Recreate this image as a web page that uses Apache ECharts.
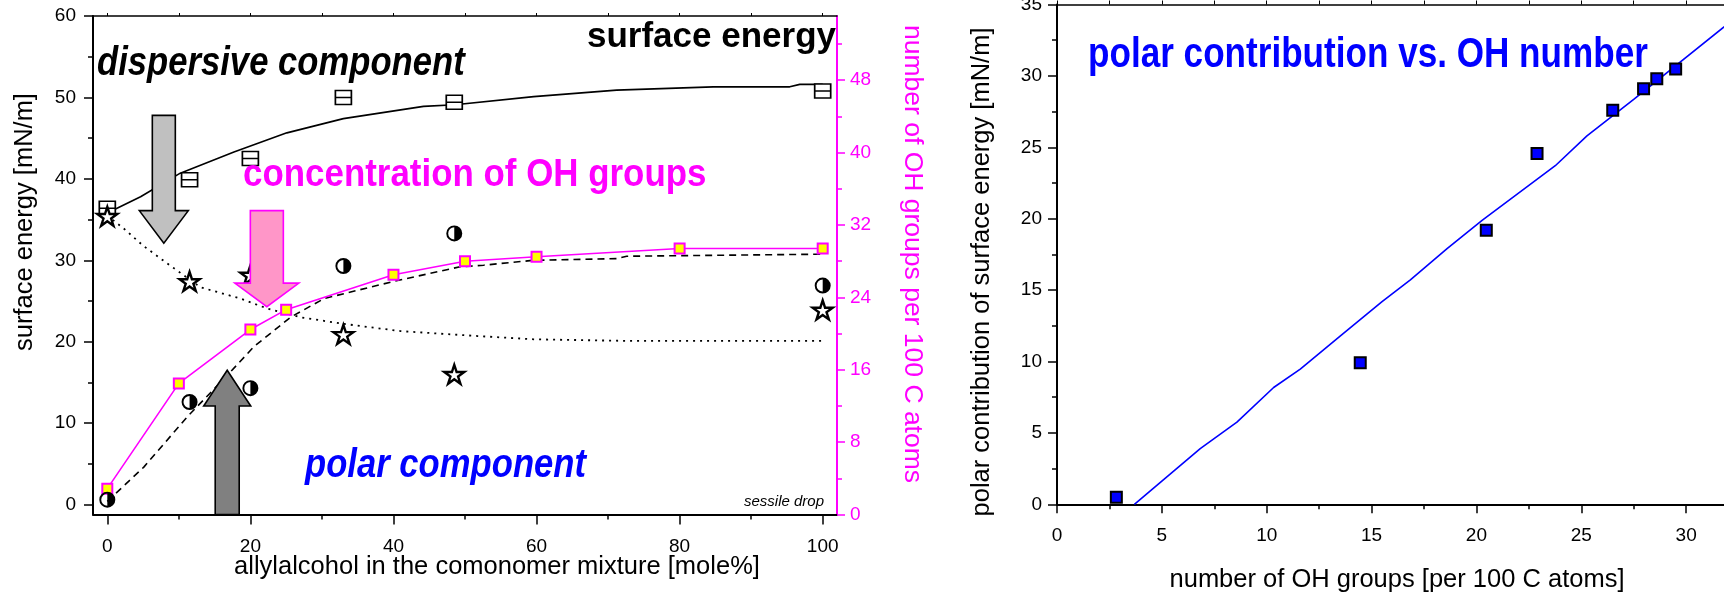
<!DOCTYPE html>
<html>
<head>
<meta charset="utf-8">
<script src="https://cdn.jsdelivr.net/npm/echarts@6/dist/echarts.min.js"></script>
<style>
  html, body { margin: 0; padding: 0; background: #ffffff; }
  #main { width: 1724px; height: 593px; }
</style>
</head>
<body>
<div id="main"></div>
<script>
// ---------- Left panel: surface energy vs. allylalcohol content ----------
const composition      = [0, 11.5, 20, 33, 48.5, 100];          // mole% allylalcohol
const totalEnergy      = [36.4, 39.9, 42.5, 50.0, 49.4, 50.8];   // mN/m
const dispersiveEnergy = [35.4, 27.4, 28.2, 20.9, 16.0, 23.9];
const polarEnergy      = [0.6, 12.6, 14.3, 29.3, 33.3, 26.9];

// smoothed trend curves
const totalFitX = [0, 4.65, 10.2, 17.7, 25.1, 33, 44.2, 48.6, 59.6, 71.2, 84.7, 95.4, 96.8, 100];
const totalFitY = [35.8, 37.8, 40.7, 43.3, 45.65, 47.4, 48.9, 49.1, 50.1, 50.9, 51.3, 51.3, 51.6, 51.6];
const dispFitX  = [0, 2.3, 5, 8.4, 13, 18.6, 22.3, 27, 33, 41, 51.7, 59.6, 72.6, 100];
const dispFitY  = [35.5, 33.9, 31.8, 29.6, 26.7, 25.3, 24.1, 23.0, 22.2, 21.3, 20.7, 20.3, 20.1, 20.1];
const polarFitX = [0, 5.1, 11.2, 16.8, 20.5, 25.6, 30.3, 40, 49.3, 52.6, 59.6, 71.2, 72.6, 100];
const polarFitY = [0.4, 4.6, 10.8, 15.9, 19.4, 23.0, 25.3, 27.4, 29.2, 29.4, 30.0, 30.2, 30.5, 30.75];

// OH groups per 100 C atoms (right-hand axis)
const ohComposition = [0, 10, 20, 25, 40, 50, 60, 80, 100];
const ohPer100C     = [2.87, 14.5, 20.45, 22.65, 26.5, 28.0, 28.5, 29.4, 29.4];

// tick labels
const energyTicks   = [0, 10, 20, 30, 40, 50, 60];
const energyMinor   = [5, 15, 25, 35, 45, 55];
const ohTicks       = [0, 8, 16, 24, 32, 40, 48];
const ohMinor       = [4, 12, 20, 28, 36, 44, 52];
const moleTicks     = [0, 20, 40, 60, 80, 100];
const moleMinor     = [10, 30, 50, 70, 90];
const moleTopTicks  = [0, 10, 20, 30, 40, 50, 60, 70, 80, 90, 100];

// ---------- Right panel: polar contribution vs. OH number ----------
const ohNumber          = [2.83, 14.46, 20.47, 22.89, 26.5, 27.97, 28.6, 29.5];
const polarContribution = [0.49, 9.92, 19.19, 24.57, 27.6, 29.1, 29.8, 30.48];
const polarFitOH    = [3.69, 6.83, 8.58, 10.33, 11.6, 13.5, 15.5, 16.85, 18.6, 20.27, 23.76, 25.27, 27.5, 31.82, 33.1];
const polarFitValue = [0, 3.9, 5.75, 8.18, 9.46, 11.77, 14.2, 15.72, 17.9, 19.89, 23.71, 25.8, 28.35, 33.45, 35];

// arrow annotations, in data units of the left panel: [x, tail, head base, tip]
const arrowAnchors = [
  [7.9, 47.8, 36.1, 32.1],
  [22.3, 36.1, 27.2, 24.3],
  [16.76, -1.23, 12.1, 16.5]
];
const arrowLooks = [
  { fill: '#c0c0c0', stroke: '#000000', shaft: 11.5, head: 24.5 },
  { fill: '#ff96c8', stroke: '#ff00ff', shaft: 16.5, head: 32 },
  { fill: '#808080', stroke: '#000000', shaft: 12, head: 23.5 }
];

const pairs = (xs, ys) => xs.map((x, i) => [x, ys[i]]);

const SANS = "'Liberation Sans', Arial, sans-serif";

// marker shapes
const barSquare = 'path://M0,0 H16 V14 H0 Z M0,7 H16';
const starSymbol = (() => {
  const pts = [];
  for (let k = 0; k < 10; k++) {
    const r = k % 2 === 0 ? 50 : 19.1;
    const a = (-90 + k * 36) * Math.PI / 180;
    pts.push((50 + r * Math.cos(a)).toFixed(2) + ',' + (50 + r * Math.sin(a)).toFixed(2));
  }
  return 'path://M' + pts.join(' L') + ' Z';
})();
// ring with the right half filled
const halfCircle = 'path://M50,0 A50,50 0 1 1 50,100 A50,50 0 1 1 50,0 Z M50,12 A38,38 0 0 0 50,88 Z';

const chart = echarts.init(document.getElementById('main'), null, { renderer: 'canvas' });

const axisBlack = { color: '#000000', width: 2 };
const labelStyle = { color: '#000000', fontSize: 19, fontFamily: SANS };

// condensed headline text (horizontal squeeze of the sans face)
const headline = (x, y, text, font, fill, align, squeeze) => ({
  type: 'text', z: 10, x: x, y: y, scaleX: squeeze, scaleY: 1,
  style: { text: text, font: font, fill: fill, align: align, verticalAlign: 'middle' }
});

const option = {
  animation: false,
  backgroundColor: '#ffffff',
  grid: [
    { left: 93, top: 16, width: 744, height: 498.6, containLabel: false, outerBoundsMode: 'none' },
    // the right panel runs past the right edge of the canvas
    { left: 1057, top: 4.5, width: 734, height: 499.8, containLabel: false, outerBoundsMode: 'none' }
  ],
  xAxis: [
    { // 0: left panel, bottom
      gridIndex: 0, type: 'value', min: -2, max: 102, position: 'bottom',
      axisLine: { show: true, onZero: false, lineStyle: axisBlack },
      axisTick: { show: true, inside: false, length: 10, customValues: moleTicks, lineStyle: { color: '#000', width: 1.5 } },
      axisLabel: { show: true, customValues: moleTicks, margin: 23, ...labelStyle },
      splitLine: { show: false }
    },
    { // 1: left panel, bottom minor ticks
      gridIndex: 0, type: 'value', min: -2, max: 102, position: 'bottom',
      axisLine: { show: false, onZero: false },
      axisTick: { show: true, length: 5, customValues: moleMinor, lineStyle: { color: '#000', width: 1.5 } },
      axisLabel: { show: false }, splitLine: { show: false }
    },
    { // 2: left panel, top frame
      gridIndex: 0, type: 'value', min: -2, max: 102, position: 'top',
      axisLine: { show: true, onZero: false, lineStyle: { color: '#000', width: 1.5 } },
      axisTick: { show: true, length: 3, customValues: moleTopTicks, lineStyle: { color: '#000', width: 1 } },
      axisLabel: { show: false }, splitLine: { show: false }
    },
    { // 3: right panel, bottom
      gridIndex: 1, type: 'value', min: 0, max: 35, interval: 5, position: 'bottom',
      axisLine: { show: true, onZero: false, lineStyle: axisBlack },
      axisTick: { show: true, length: 9, lineStyle: { color: '#000', width: 1.5 } },
      minorTick: { show: true, splitNumber: 2, length: 5, lineStyle: { color: '#000', width: 1.5 } },
      axisLabel: { show: true, margin: 22, ...labelStyle },
      splitLine: { show: false }, minorSplitLine: { show: false }
    },
    { // 4: right panel, top frame
      gridIndex: 1, type: 'value', min: 0, max: 35, interval: 5, position: 'top',
      axisLine: { show: true, onZero: false, lineStyle: { color: '#000', width: 1.5 } },
      axisTick: { show: true, length: 4, lineStyle: { color: '#000', width: 1 } },
      minorTick: { show: true, splitNumber: 2, length: 4, lineStyle: { color: '#000', width: 1 } },
      axisLabel: { show: false }, splitLine: { show: false }
    }
  ],
  yAxis: [
    { // 0: surface energy
      gridIndex: 0, type: 'value', min: -1.23, max: 60, position: 'left',
      axisLine: { show: true, onZero: false, lineStyle: axisBlack },
      axisTick: { show: true, length: 9, customValues: energyTicks, lineStyle: { color: '#000', width: 1.5 } },
      axisLabel: { show: true, customValues: energyTicks, margin: 17, ...labelStyle },
      splitLine: { show: false }
    },
    { // 1: surface energy minor ticks
      gridIndex: 0, type: 'value', min: -1.23, max: 60, position: 'left',
      axisLine: { show: false, onZero: false },
      axisTick: { show: true, length: 5, customValues: energyMinor, lineStyle: { color: '#000', width: 1.5 } },
      axisLabel: { show: false }, splitLine: { show: false }
    },
    { // 2: OH groups per 100 C atoms
      gridIndex: 0, type: 'value', min: 0, max: 55.1, position: 'right',
      axisLine: { show: true, onZero: false, lineStyle: { color: '#ff00ff', width: 2 } },
      axisTick: { show: true, length: 8, customValues: ohTicks, lineStyle: { color: '#ff00ff', width: 1.5 } },
      axisLabel: { show: true, customValues: ohTicks, margin: 13, color: '#ff00ff', fontSize: 19, fontFamily: SANS },
      splitLine: { show: false }
    },
    { // 3: OH minor ticks
      gridIndex: 0, type: 'value', min: 0, max: 55.1, position: 'right',
      axisLine: { show: false, onZero: false },
      axisTick: { show: true, length: 5, customValues: ohMinor, lineStyle: { color: '#ff00ff', width: 1.5 } },
      axisLabel: { show: false }, splitLine: { show: false }
    },
    { // 4: polar contribution
      gridIndex: 1, type: 'value', min: 0, max: 35, interval: 5, position: 'left',
      axisLine: { show: true, onZero: false, lineStyle: axisBlack },
      axisTick: { show: true, length: 9, lineStyle: { color: '#000', width: 1.5 } },
      minorTick: { show: true, splitNumber: 2, length: 5, lineStyle: { color: '#000', width: 1.5 } },
      axisLabel: { show: true, margin: 15, ...labelStyle },
      splitLine: { show: false }, minorSplitLine: { show: false }
    }
  ],
  series: [
    { // total surface energy trend
      type: 'line', xAxisIndex: 0, yAxisIndex: 0, z: 2, showSymbol: false, symbol: 'none',
      data: pairs(totalFitX, totalFitY),
      lineStyle: { color: '#000', width: 1.6, type: 'solid' }
    },
    { // dispersive trend
      type: 'line', xAxisIndex: 0, yAxisIndex: 0, z: 2, symbol: 'none',
      data: pairs(dispFitX, dispFitY),
      lineStyle: { color: '#000', width: 1.8, type: [2, 5] }
    },
    { // polar trend
      type: 'line', xAxisIndex: 0, yAxisIndex: 0, z: 2, symbol: 'none',
      data: pairs(polarFitX, polarFitY),
      lineStyle: { color: '#000', width: 1.6, type: [7, 5] }
    },
    { // OH concentration
      type: 'line', xAxisIndex: 0, yAxisIndex: 2, z: 3,
      data: pairs(ohComposition, ohPer100C),
      lineStyle: { color: '#ff00ff', width: 1.6 },
      symbol: 'rect', symbolSize: 10,
      itemStyle: { color: '#ffff00', borderColor: '#ff00ff', borderWidth: 2 }
    },
    { // total surface energy
      type: 'scatter', xAxisIndex: 0, yAxisIndex: 0, z: 4,
      data: pairs(composition, totalEnergy),
      symbol: barSquare, symbolSize: [16, 14],
      itemStyle: { color: '#ffffff', borderColor: '#000', borderWidth: 1.6, opacity: 1 }
    },
    { // dispersive component
      type: 'scatter', xAxisIndex: 0, yAxisIndex: 0, z: 4,
      data: pairs(composition, dispersiveEnergy),
      symbol: starSymbol, symbolSize: 20, symbolKeepAspect: true,
      itemStyle: { color: '#ffffff', borderColor: '#000', borderWidth: 2.4, opacity: 1 }
    },
    { // polar component
      type: 'scatter', xAxisIndex: 0, yAxisIndex: 0, z: 4,
      data: pairs(composition, polarEnergy),
      symbol: halfCircle, symbolSize: 16, symbolKeepAspect: true,
      itemStyle: { color: '#000000', opacity: 1 }
    },
    { // arrows
      type: 'custom', xAxisIndex: 0, yAxisIndex: 0, z: 6, clip: false,
      data: arrowAnchors,
      renderItem: (params, api) => {
        const look = arrowLooks[params.dataIndex];
        const x = api.value(0);
        const tail = api.coord([x, api.value(1)]);
        const base = api.coord([x, api.value(2)]);
        const tip = api.coord([x, api.value(3)]);
        const cx = tip[0];
        return {
          type: 'polygon',
          shape: { points: [
            [cx - look.shaft, tail[1]], [cx + look.shaft, tail[1]], [cx + look.shaft, base[1]],
            [cx + look.head, base[1]], [cx, tip[1]], [cx - look.head, base[1]], [cx - look.shaft, base[1]]
          ] },
          style: { fill: look.fill, stroke: look.stroke, lineWidth: 1.6 }
        };
      }
    },
    { // polar contribution trend
      type: 'line', xAxisIndex: 3, yAxisIndex: 4, z: 2, symbol: 'none',
      data: pairs(polarFitOH, polarFitValue),
      lineStyle: { color: '#0000ff', width: 1.6 }
    },
    { // polar contribution vs OH number
      type: 'scatter', xAxisIndex: 3, yAxisIndex: 4, z: 4,
      data: pairs(ohNumber, polarContribution),
      symbol: 'rect', symbolSize: 11,
      itemStyle: { color: '#0000ff', borderColor: '#000', borderWidth: 2, opacity: 1 }
    }
  ],
  graphic: [
    headline(97, 64, 'dispersive component', 'italic bold 41px ' + SANS, '#000000', 'left', 0.845),
    headline(836, 37, 'surface energy', 'bold 35px ' + SANS, '#000000', 'right', 1),
    headline(243, 175, 'concentration of OH groups', 'bold 39px ' + SANS, '#ff00ff', 'left', 0.895),
    headline(305, 466, 'polar component', 'italic bold 41px ' + SANS, '#0000ff', 'left', 0.845),
    headline(1088, 55, 'polar contribution vs. OH number', 'bold 42px ' + SANS, '#0000ff', 'left', 0.836),
    { type: 'text', z: 10, x: 824, y: 502, style: { text: 'sessile drop', font: 'italic 15px ' + SANS, fill: '#000', align: 'right', verticalAlign: 'middle' } },
    { type: 'text', z: 10, x: 25, y: 222, rotation: Math.PI / 2, style: { text: 'surface energy [mN/m]', font: '25.5px ' + SANS, fill: '#000', align: 'center', verticalAlign: 'middle' } },
    { type: 'text', z: 10, x: 497, y: 567, style: { text: 'allylalcohol in the comonomer mixture [mole%]', font: '25.5px ' + SANS, fill: '#000', align: 'center', verticalAlign: 'middle' } },
    { type: 'text', z: 10, x: 912, y: 254, rotation: -Math.PI / 2, style: { text: 'number of OH groups per 100 C atoms', font: '26.5px ' + SANS, fill: '#ff00ff', align: 'center', verticalAlign: 'middle' } },
    { type: 'text', z: 10, x: 982, y: 272, rotation: Math.PI / 2, style: { text: 'polar contribution of surface energy [mN/m]', font: '25.5px ' + SANS, fill: '#000', align: 'center', verticalAlign: 'middle' } },
    { type: 'text', z: 10, x: 1397, y: 580, style: { text: 'number of OH groups [per 100 C atoms]', font: '25.5px ' + SANS, fill: '#000', align: 'center', verticalAlign: 'middle' } }
  ]
};

chart.setOption(option);
</script>
</body>
</html>
